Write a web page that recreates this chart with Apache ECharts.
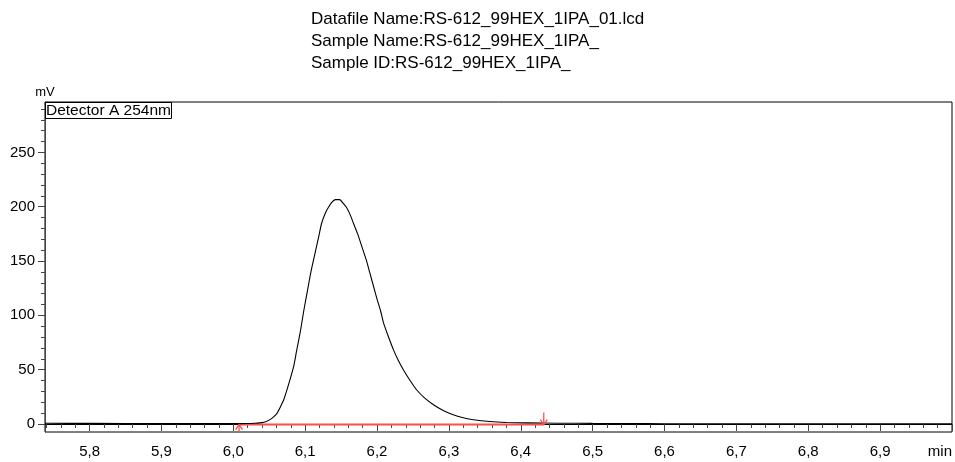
<!DOCTYPE html>
<html>
<head>
<meta charset="utf-8">
<title>Detector A 254nm</title>
<script src="https://cdn.jsdelivr.net/npm/echarts@6.0.0/dist/echarts.min.js"></script>
<style>
    html, body { margin: 0; padding: 0; background: #fff; }
    #main { width: 955px; height: 462px; }
</style>
</head>
<body>
<div id="main"></div>
<script>
// retention time (min)
var times = [5.738, 5.80, 5.90, 6.00, 6.02, 6.03, 6.04, 6.045, 6.051, 6.056, 6.061, 6.065,
    6.070, 6.074, 6.079, 6.084, 6.088, 6.093, 6.098, 6.103, 6.108, 6.114, 6.119, 6.123,
    6.128, 6.132, 6.137, 6.142, 6.148, 6.153, 6.158, 6.163, 6.167, 6.173, 6.179, 6.185,
    6.190, 6.195, 6.200, 6.205, 6.209, 6.216, 6.223, 6.230, 6.237, 6.246, 6.255, 6.266,
    6.279, 6.292, 6.306, 6.320, 6.334, 6.357, 6.38, 6.41, 6.45, 6.50, 6.55, 6.60, 6.70,
    6.80, 6.90, 7.00];
// signal (mV)
var signal = [0.6, 0.5, 0.3, 0.3, 0.4, 0.7, 1.2, 2.0, 4.0, 6.5, 10, 15,
    22, 30, 41, 53, 67, 84, 104, 122, 140, 158, 173, 185,
    194, 199, 204, 206.5, 206.5, 203, 198.8, 192, 185, 175, 163, 151,
    139, 127, 115, 104, 93, 80, 68, 58, 49.5, 40, 31.5, 24,
    17.5, 12.5, 8.5, 5.8, 3.9, 2.2, 1.4, 1.0, 0.7, 0.5, 0.4, 0.2, 0.1,
    0.1, 0.1, 0.1];

// peak integration: start / end time and baseline level
var peakTimes = [6.008, 6.432];
var peakBase = [-0.6, -0.6];
var peakArrow = [1, -1];   // 1 = arrow up, -1 = arrow down

// axis ticks
var xMajor = [5.8, 5.9, 6.0, 6.1, 6.2, 6.3, 6.4, 6.5, 6.6, 6.7, 6.8, 6.9, 7.0];
var yMajor = [0, 50, 100, 150, 200, 250];
var xRange = [5.738, 7.0];
var yRange = [-7.4, 296.4];
var xMinorStep = 0.02;
var yMinorStep = 10;

window.onload = function () {
    var myChart = echarts.init(document.getElementById('main'));

    var lineData = times.map(function (t, i) { return [t, signal[i]]; });
    var baseData = peakTimes.map(function (t, i) { return [t, peakBase[i]]; });
    var arrowData = peakTimes.map(function (t, i) { return [t, peakBase[i], peakArrow[i]]; });

    // minor tick positions
    var xMinor = [];
    for (var i = 0; 5.74 + i * xMinorStep <= 7.0001; i++) {
        xMinor.push(+(5.74 + i * xMinorStep).toFixed(2));
    }
    var yMinor = [];
    for (var j = 0; j * yMinorStep <= 290; j++) {
        yMinor.push(j * yMinorStep);
    }

    var font = 'Liberation Sans, Arial, sans-serif';
    var axisGray = '#444';
    var red = '#ff4d4d';

    var option = {
        animation: false,
        title: [
            {
                text: 'Datafile Name:RS-612_99HEX_1IPA_01.lcd\nSample Name:RS-612_99HEX_1IPA_\nSample ID:RS-612_99HEX_1IPA_',
                left: 311,
                top: 8,
                padding: 0,
                textStyle: {
                    fontFamily: font,
                    fontSize: 17,
                    fontWeight: 'normal',
                    color: '#000',
                    lineHeight: 22
                }
            },
            {
                // detector label box
                text: 'Detector A 254nm',
                left: 45,
                top: 102,
                padding: [1, 1, 0, 1],
                borderColor: '#000',
                borderWidth: 1,
                textStyle: {
                    fontFamily: font,
                    fontSize: 15.5,
                    fontWeight: 'normal',
                    color: '#000',
                    lineHeight: 16
                }
            }
        ],
        grid: {
            left: 45,
            right: 3,
            top: 102,
            bottom: 30,
            show: true,
            borderColor: '#000',
            borderWidth: 1
        },
        xAxis: [
            {
                type: 'value',
                position: 'bottom',
                min: xRange[0],
                max: xRange[1],
                axisLine: { show: true, lineStyle: { color: '#000', width: 1 } },
                axisTick: { show: true, customValues: xMajor, length: 7, lineStyle: { color: axisGray } },
                axisLabel: {
                    customValues: xMajor,
                    margin: 12,
                    fontFamily: font,
                    fontSize: 15,
                    color: '#000',
                    alignMaxLabel: 'right',
                    formatter: function (v) {
                        if (v > 6.999) return 'min';
                        return v.toFixed(1).replace('.', ',');
                    }
                },
                splitLine: { show: false }
            },
            {
                // minor ticks
                type: 'value',
                position: 'bottom',
                min: xRange[0],
                max: xRange[1],
                axisLine: { show: false },
                axisTick: { show: true, customValues: xMinor, length: 4, lineStyle: { color: axisGray } },
                axisLabel: { show: false },
                splitLine: { show: false }
            }
        ],
        yAxis: [
            {
                type: 'value',
                position: 'left',
                min: yRange[0],
                max: yRange[1],
                name: 'mV',
                nameLocation: 'end',
                nameGap: 3,
                nameTextStyle: { fontFamily: font, fontSize: 13, color: '#000' },
                axisLine: { show: true, lineStyle: { color: axisGray, width: 1 } },
                axisTick: { show: true, customValues: yMajor, length: 7, lineStyle: { color: axisGray } },
                axisLabel: {
                    customValues: yMajor,
                    margin: 10,
                    fontFamily: font,
                    fontSize: 15,
                    color: '#000'
                },
                splitLine: { show: false }
            },
            {
                // minor ticks
                type: 'value',
                position: 'left',
                min: yRange[0],
                max: yRange[1],
                axisLine: { show: false },
                axisTick: { show: true, customValues: yMinor, length: 4, lineStyle: { color: axisGray } },
                axisLabel: { show: false },
                splitLine: { show: false }
            }
        ],
        series: [
            {
                name: 'Detector A 254nm',
                type: 'line',
                data: lineData,
                showSymbol: false,
                symbol: 'none',
                smooth: 0.2,
                lineStyle: { color: '#000', width: 1.1 },
                z: 3
            },
            {
                // integration baseline
                name: 'baseline',
                type: 'line',
                data: baseData,
                symbol: 'none',
                lineStyle: { color: red, width: 2 },
                z: 2
            },
            {
                // start / end arrows
                name: 'marks',
                type: 'custom',
                data: arrowData,
                clip: false,
                z: 4,
                renderItem: function (params, api) {
                    var p = api.coord([api.value(0), api.value(1)]);
                    var s = api.value(2);
                    var tail = s > 0 ? 8 : 12;
                    return {
                        type: 'group',
                        children: [
                            {
                                type: 'line',
                                shape: { x1: p[0], y1: p[1], x2: p[0], y2: p[1] + s * tail },
                                style: { stroke: red, lineWidth: 1.3 }
                            },
                            {
                                type: 'polyline',
                                shape: { points: [[p[0] - 3.5, p[1] + s * 5], [p[0], p[1]], [p[0] + 3.5, p[1] + s * 5]] },
                                style: { stroke: red, lineWidth: 1.3, fill: null }
                            }
                        ]
                    };
                }
            }
        ]
    };

    myChart.setOption(option);
};
</script>
</body>
</html>
